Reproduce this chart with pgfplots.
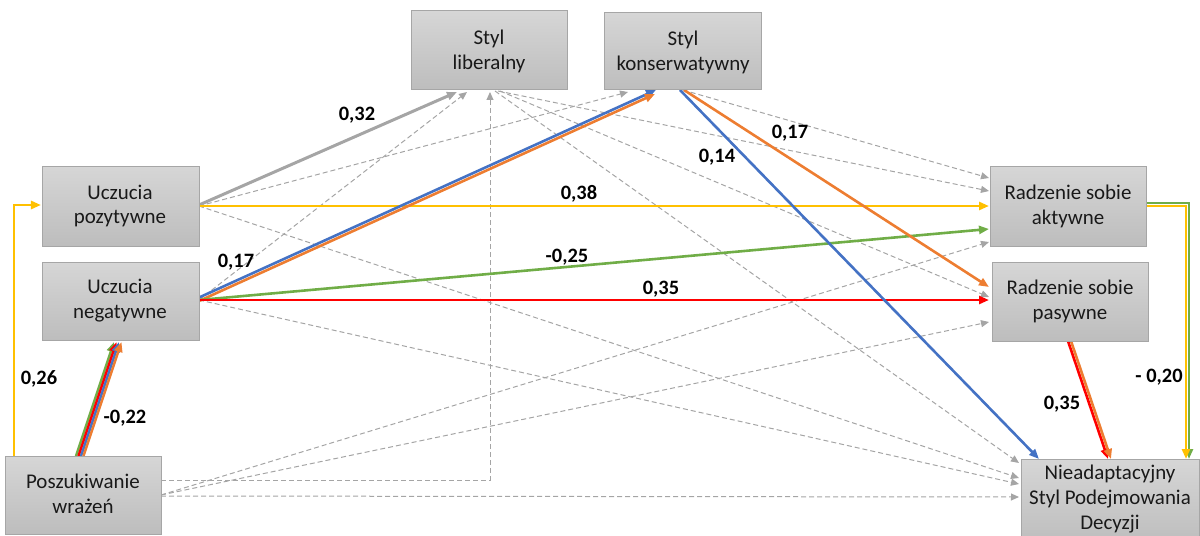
\documentclass[border=0pt]{standalone}
\usepackage{pgfplots}
\pgfplotsset{compat=1.18}
\usepackage{fontspec}
\setmainfont{Carlito}
\usetikzlibrary{arrows.meta}
\definecolor{cgray}{HTML}{A5A5A5}
\definecolor{cyel}{HTML}{FFC000}
\definecolor{cblue}{HTML}{4472C4}
\definecolor{corange}{HTML}{ED7D31}
\definecolor{cgreen}{HTML}{70AD47}
\definecolor{cred}{HTML}{FF0000}
\definecolor{boxtop}{HTML}{D6D6D6}
\definecolor{boxbot}{HTML}{BDBDBD}
\definecolor{boxline}{HTML}{A6A6A6}
\tikzset{
  dar/.style={cgray, line width=1bp, dash pattern=on 5bp off 3bp, -{Triangle[length=8bp,width=7bp]}},
  sar/.style={line width=2.6bp, -{Triangle[length=10bp,width=8bp]}},
  bx/.style={draw=boxline, line width=1bp, top color=boxtop, bottom color=boxbot},
  bt/.style={align=center, text=black!90, font=\fontsize{21}{25}\selectfont},
  lb/.style={text=black, font=\fontsize{20.5}{24}\selectfont\bfseries},
}
\begin{document}
\begin{tikzpicture}
\begin{axis}[width=1200bp,height=536bp,scale only axis,xmin=0,xmax=1200,ymin=0,ymax=536,y dir=reverse,hide axis,clip=false]
% dashed paths
\addplot[dar] coordinates {(199,206) (628,92)};
\addplot[dar] coordinates {(199,300) (467,92)};
\addplot[dar] coordinates {(199,206) (1019,478)};
\addplot[dar] coordinates {(199,300) (1019,484)};
\addplot[dar] coordinates {(161,480) (490,480) (490,92)};
\addplot[dar] coordinates {(161,495) (989,242)};
\addplot[dar] coordinates {(161,495) (989,322)};
\addplot[dar] coordinates {(161,496) (1019,497)};
\addplot[dar] coordinates {(498,91) (989,191)};
\addplot[dar] coordinates {(683,90) (989,178)};
\addplot[dar] coordinates {(500,91) (989,297)};
\addplot[dar] coordinates {(495,91) (1019,463)};
% solid paths
\addplot[sar, cgray, line width=3bp] coordinates {(199,205) (457,92)};
\addplot[sar, cyel] coordinates {(199,206) (989,206)};
\addplot[sar, cyel] coordinates {(14,456) (14,205) (41,205)};
\addplot[sar, cblue] coordinates {(198,298) (656,90)};
\addplot[sar, corange] coordinates {(199,301) (655,94)};
\addplot[sar, cgreen] coordinates {(199,300) (989,229)};
\addplot[sar, cred] coordinates {(199,300) (989,300)};
\addplot[sar, cblue] coordinates {(680,90) (1039,459)};
\addplot[sar, corange] coordinates {(684,90) (989,287)};
\addplot[sar, cred] coordinates {(1068,341) (1108,459)};
\addplot[sar, corange] coordinates {(1071,341) (1111,459)};
\addplot[sar, cgreen] coordinates {(1146,203) (1189,203) (1189,459)};
\addplot[sar, cyel] coordinates {(1146,206) (1186,206) (1186,459)};
\addplot[sar, cgreen, line width=2.4bp] coordinates {(76,456) (114,342)};
\addplot[sar, cred, line width=2.4bp] coordinates {(78.5,456) (116.5,342)};
\addplot[sar, cblue, line width=2.4bp] coordinates {(81,456) (119,342)};
\addplot[sar, corange, line width=2.4bp] coordinates {(83.5,456) (121.5,342)};
% boxes
\draw[bx] (axis cs:411,11) rectangle (axis cs:567,90);
\draw[bx] (axis cs:604,13) rectangle (axis cs:761,90);
\draw[bx] (axis cs:42,166) rectangle (axis cs:199,246);
\draw[bx] (axis cs:42,262) rectangle (axis cs:199,340);
\draw[bx] (axis cs:5,456) rectangle (axis cs:161,534);
\draw[bx] (axis cs:990,166) rectangle (axis cs:1146,246);
\draw[bx] (axis cs:992,262) rectangle (axis cs:1148,341);
\draw[bx] (axis cs:1021,459) rectangle (axis cs:1199,545);
\node[bt] at (axis cs:489,51) {Styl\\liberalny};
\node[bt] at (axis cs:683,52) {Styl\\konserwatywny};
\node[bt] at (axis cs:120,206) {Uczucia\\pozytywne};
\node[bt] at (axis cs:120,301) {Uczucia\\negatywne};
\node[bt] at (axis cs:83,494) {Poszukiwanie\\wrażeń};
\node[bt] at (axis cs:1068,206) {Radzenie sobie\\aktywne};
\node[bt] at (axis cs:1070,301) {Radzenie sobie\\pasywne};
\node[bt] at (axis cs:1110,499) {Nieadaptacyjny\\Styl Podejmowania\\Decyzji};
% labels
\node[lb] at (axis cs:357,115) {0,32};
\node[lb] at (axis cs:579,194) {0,38};
\node[lb] at (axis cs:236,262) {0,17};
\node[lb] at (axis cs:567,257) {-0,25};
\node[lb] at (axis cs:661,289) {0,35};
\node[lb] at (axis cs:717,157) {0,14};
\node[lb] at (axis cs:790,133) {0,17};
\node[lb] at (axis cs:39,379) {0,26};
\node[lb] at (axis cs:125,418) {-0,22};
\node[lb] at (axis cs:1062,404) {0,35};
\node[lb] at (axis cs:1159,377) {- 0,20};
\end{axis}
\pgfresetboundingbox
\path[use as bounding box] (0,0) rectangle (1200bp,536bp);
\end{tikzpicture}
\end{document}
